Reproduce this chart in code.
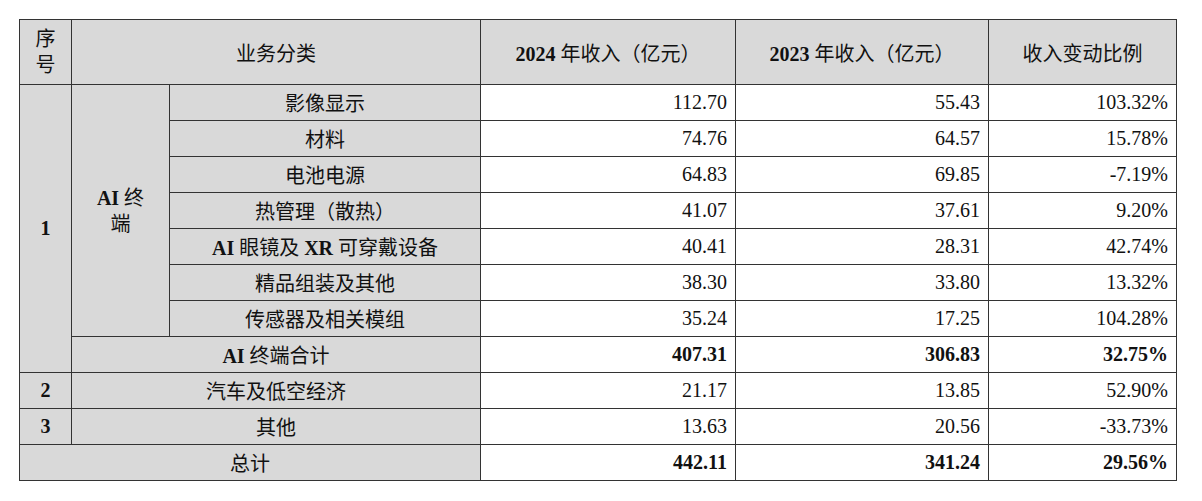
<!DOCTYPE html>
<html><head><meta charset="utf-8">
<script src="https://cdn.jsdelivr.net/npm/chart.js@4"></script>
<style>
body{margin:0;background:#fff;}
table{position:absolute;left:19px;top:19px;border-collapse:collapse;font-family:"Liberation Serif","Noto Sans CJK SC",serif;font-size:20px;color:#111;}
td{border:1.5px solid #333;padding:0 8px;height:35px;white-space:nowrap;}
.g{background:#d9d9d9;text-align:center;}
.n{text-align:right;}
.b{font-weight:bold;}
.h td{height:64px;background:#d9d9d9;text-align:center;}
</style></head><body>
<table id="t"></table>
<script>
const subItems = ['影像显示','材料','电池电源','热管理（散热）','AI 眼镜及 XR 可穿戴设备','精品组装及其他','传感器及相关模组'];
const rev2024 = ['112.70','74.76','64.83','41.07','40.41','38.30','35.24'];
const rev2023 = ['55.43','64.57','69.85','37.61','28.31','33.80','17.25'];
const change = ['103.32%','15.78%','-7.19%','9.20%','42.74%','13.32%','104.28%'];
const aiTotal = ['407.31','306.83','32.75%'];
const otherItems = ['汽车及低空经济','其他'];
const other2024 = ['21.17','13.63'];
const other2023 = ['13.85','20.56'];
const otherChange = ['52.90%','-33.73%'];
const grand = ['442.11','341.24','29.56%'];

const nums = (a, bold) => a.map(v => `<td class="n${bold ? ' b' : ''}">${v}</td>`).join('');
let html = `<colgroup><col style="width:52px"><col style="width:98px"><col style="width:311px"><col style="width:255px"><col style="width:253px"><col style="width:188px"></colgroup>`;
html += `<tr class="h"><td style="line-height:26px">序<br>号</td><td colspan="2">业务分类</td><td class="b">2024 <span style="font-weight:normal">年收入（亿元）</span></td><td class="b">2023 <span style="font-weight:normal">年收入（亿元）</span></td><td>收入变动比例</td></tr>`;
subItems.forEach((s, i) => {
  html += '<tr>';
  if (i === 0) html += `<td class="g b" rowspan="8">1</td><td class="g" rowspan="7" style="line-height:26px"><b>AI</b> 终<br>端</td>`;
  html += `<td class="g">${s.replace(/([A-Z]+)/g, '<b>$1</b>')}</td>` + nums([rev2024[i], rev2023[i], change[i]]) + '</tr>';
});
html += `<tr><td class="g" colspan="2"><b>AI</b> 终端合计</td>${nums(aiTotal, true)}</tr>`;
otherItems.forEach((s, i) => {
  html += `<tr><td class="g b">${i + 2}</td><td class="g" colspan="2">${s}</td>${nums([other2024[i], other2023[i], otherChange[i]])}</tr>`;
});
html += `<tr><td class="g" colspan="3">总计</td>${nums(grand, true)}</tr>`;
document.getElementById('t').innerHTML = html;
</script>
</body></html>
